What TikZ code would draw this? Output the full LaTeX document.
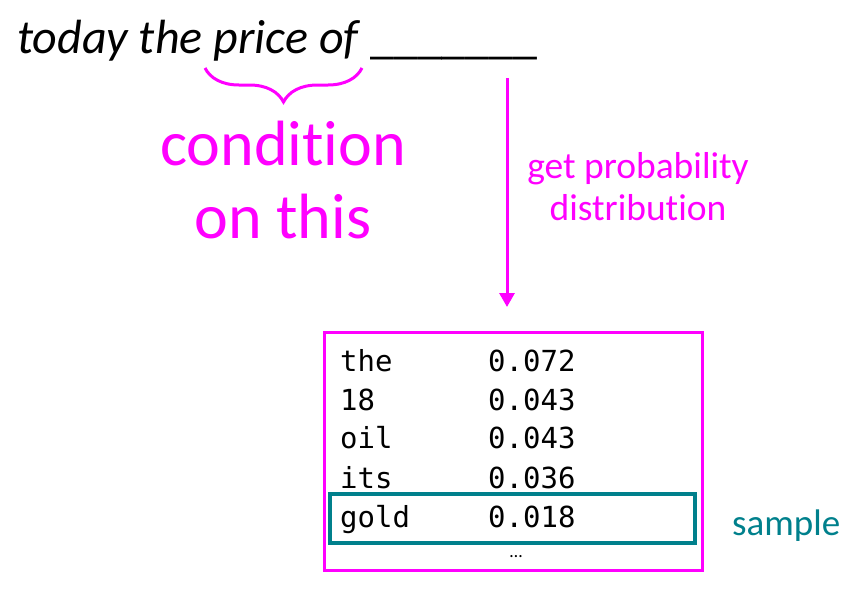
\documentclass[tikz,border=0pt]{standalone}
\usepackage{fontspec}
\setmainfont{Carlito}[Ligatures=NoCommon]
\setmonofont{DejaVu Sans Mono}
\usetikzlibrary{arrows.meta,decorations.pathreplacing}
\definecolor{hotpink}{RGB}{255,0,255}
\definecolor{sampleteal}{RGB}{0,128,140}
\tikzset{
  word/.style={anchor=base west, inner sep=0pt, font=\fontsize{29}{34}\ttfamily},
  pinktext/.style={anchor=base, inner sep=0pt, text=hotpink},
}

\begin{document}
\begin{tikzpicture}[x=1pt,y=-1pt]
    \useasboundingbox (0,0) rectangle (862,589);
    % the prompt
    \node[anchor=base west, inner sep=0pt, font=\fontsize{48}{56}\selectfont\itshape] (prompt) at (17,53) {today the price of};
    \node[anchor=base west, inner sep=0pt, font=\fontsize{48}{56}\selectfont] (blank) at (370,53) {\_\_\_\_\_\_\_};
    %
    \coordinate (bracel) at (205,68);
    \coordinate (bracer) at (362,68);
    \draw[hotpink, line width=3, decorate, decoration={brace, mirror, amplitude=34}] (bracel) -- (bracer);
    \node[pinktext, font=\fontsize{64}{76}\selectfont] (cond) at (283,165) {condition};
    \node[pinktext, font=\fontsize{64}{76}\selectfont] (onthis) at (283,238) {on this};
    %
    \coordinate (arrowstart) at (507,78);
    \coordinate (arrowend) at (507,307);
    \draw[hotpink, line width=3, -{Triangle[width=15,length=14]}] (arrowstart) -- (arrowend);
    \node[pinktext, font=\fontsize{37.5}{44}\selectfont] (getprob) at (638,178) {get probability};
    \node[pinktext, font=\fontsize{37.5}{44}\selectfont] (distr) at (638,220) {distribution};
    %
    \node[draw=hotpink, line width=3, minimum width=378, minimum height=238, inner sep=0pt] (probbox) at (513,451) {};
    \node[word] (w1) at (340,371) {the};
    \node[word] (p1) at (488,371) {0.072};
    \node[word] (w2) at (340,410) {18};
    \node[word] (p2) at (488,410) {0.043};
    \node[word] (w3) at (340,448) {oil};
    \node[word] (p3) at (488,448) {0.043};
    \node[word] (w4) at (340,488) {its};
    \node[word] (p4) at (488,488) {0.036};
    \node[word] (w5) at (340,527) {gold};
    \node[word] (p5) at (488,527) {0.018};
    \node[anchor=base, inner sep=0pt, font=\fontsize{18}{22}\selectfont] (more) at (516,557) {…};
    %
    \node[draw=sampleteal, line width=3.5, minimum width=365, minimum height=49, inner sep=0pt] (pickbox) at (512.5,518.5) {};
    \node[anchor=base west, inner sep=0pt, text=sampleteal, font=\fontsize{37}{44}\selectfont] (sample) at (732,535) {sample};
\end{tikzpicture}
\end{document}
